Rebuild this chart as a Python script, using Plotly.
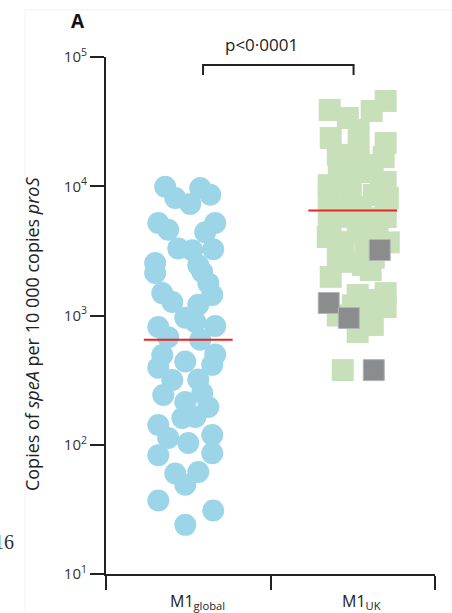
import plotly.graph_objects as go

# ---------------- data ----------------
categories = ["M1<sub>global</sub>", "M1<sub>UK</sub>"]

global_values = [9900, 9700, 8100, 8600, 7300, 5200, 4600, 5200, 4400, 3300,
                 3200, 3250, 2550, 2450, 2130, 2170, 1490, 1270, 1440, 1210,
                 960, 890, 815, 830, 680, 650, 495, 500, 440, 395,
                 415, 317, 320, 243, 251, 214, 196, 161, 164, 142,
                 119, 113, 103, 83, 86, 60, 61.5, 49, 37, 31, 24, 1780]
global_jitter = [-0.14, 0.073, -0.079, 0.134, 0.012, -0.182, -0.122, 0.164, 0.103, -0.061,
                 0.024, 0.152, -0.201, 0.061, -0.201, 0.085, -0.158, -0.097, 0.146, 0.061,
                 -0.018, 0.043, -0.182, 0.164, -0.122, 0.073, -0.158, 0.164, -0.018, -0.182,
                 0.146, -0.097, 0.061, -0.152, 0.085, -0.018, 0.122, -0.036, 0.043, -0.182,
                 0.146, -0.122, 0.0, -0.182, 0.146, -0.079, 0.061, -0.018, -0.182, 0.152, -0.018, 0.122]

uk_values = [45700, 38900, 33700, 38200, 23600, 27200, 21600, 17500, 18400, 16800,
             10200, 12200, 12900, 10800, 8260, 8500, 8560, 8110, 5680, 5800,
             5650, 5780, 4050, 3700, 4400, 3680, 4430, 2790, 2460, 2800,
             1990, 1440, 1490, 1160, 1010, 745, 1000, 378,
             16000, 14600, 12000, 9350, 6900, 6800, 7000, 5000, 5000, 3500,
             2600, 2250, 1320, 1200, 845]
uk_jitter = [0.2, -0.14, -0.03, 0.115, -0.134, 0.036, 0.2, -0.091, 0.036, 0.188,
             -0.146, -0.012, 0.091, 0.2, -0.146, -0.012, 0.128, 0.213, -0.146, -0.03,
             0.109, 0.2, -0.152, -0.055, 0.03, 0.219, 0.152, -0.091, 0.061, 0.128,
             -0.134, 0.03, 0.2, 0.2, 0.091, 0.03, -0.091, -0.061,
             -0.043, 0.122, -0.085, 0.17, 0.049, -0.085, 0.2, 0.049, -0.134, 0.079,
             -0.012, 0.109, 0.122, 0.0, 0.122]

uk_grey_values = [3210, 1250, 957, 378]
uk_grey_jitter = [0.164, -0.146, -0.024, 0.128]

medians = [650, 6500]
y_tickvals = [10, 100, 1000, 10000, 100000]
y_ticktext = ["10<sup>1</sup>", "10<sup>2</sup>", "10<sup>3</sup>", "10<sup>4</sup>", "10<sup>5</sup>"]
p_text = "p<0·0001"

# ---------------- figure ----------------
centers = [0.5, 1.5]
BLUE = "#9dd5e8"
GREEN = "#c8e0b9"
GREY = "#8a8c8e"
RED = "#e8261f"
FONT = "Open Sans"

fig = go.Figure()

fig.add_trace(go.Scatter(
    x=[centers[0] + j for j in global_jitter], y=global_values,
    mode="markers", marker=dict(symbol="circle", size=22, color=BLUE, line=dict(width=0)),
    hoverinfo="y", showlegend=False))

fig.add_trace(go.Scatter(
    x=[centers[1] + j for j in uk_jitter], y=uk_values,
    mode="markers", marker=dict(symbol="square", size=22, color=GREEN, line=dict(width=0)),
    hoverinfo="y", showlegend=False))

fig.add_trace(go.Scatter(
    x=[centers[1] + j for j in uk_grey_jitter], y=uk_grey_values,
    mode="markers", marker=dict(symbol="square", size=21, color=GREY,
                                line=dict(width=1, color="#b4b6b7")),
    hoverinfo="y", showlegend=False))

# median lines
for c, m in zip(centers, medians):
    fig.add_trace(go.Scatter(
        x=[c - 0.27, c + 0.27], y=[m, m], mode="lines",
        line=dict(color=RED, width=2), hoverinfo="skip", showlegend=False))

# significance bracket
bx0, bx1 = 0.59, 1.505
fig.add_shape(type="path", xref="x", yref="paper",
              path=f"M {bx0},0.965 L {bx0},0.9845 L {bx1},0.9845 L {bx1},0.965",
              line=dict(color="#222", width=2))
fig.add_annotation(x=(bx0 + bx1) / 2 - 0.1, y=1.025, xref="x", yref="paper",
                   text=p_text, showarrow=False, font=dict(family=FONT, size=17, color="#222"),
                   xanchor="center", yanchor="middle")

# category labels
for c, lab in zip(centers, categories):
    fig.add_annotation(x=c + 0.055, y=-0.054, xref="x", yref="paper", text=lab, showarrow=False,
                       font=dict(family=FONT, size=16, color="#222"),
                       xanchor="center", yanchor="middle")

# y-axis title
fig.add_annotation(x=-0.225, y=0.466, xref="paper", yref="paper",
                   text="Copies of <i>speA</i> per 10 000 copies <i>proS</i>",
                   textangle=-90, showarrow=False,
                   font=dict(family=FONT, size=18, color="#222"),
                   xanchor="center", yanchor="middle")

# panel letter
fig.add_annotation(x=-0.085, y=1.0696, xref="paper", yref="paper", text="<b>A</b>",
                   showarrow=False, font=dict(family=FONT, size=19, color="#111"),
                   xanchor="center", yanchor="middle")

# stray text from neighbouring panel
fig.add_annotation(x=-0.274, y=0.062, xref="paper", yref="paper", text="16",
                   showarrow=False, font=dict(family="Liberation Serif", size=20, color="#333"),
                   xanchor="right", yanchor="middle")

# faint panel frame
fig.add_shape(type="line", xref="paper", yref="paper", x0=-0.246, x1=1.06, y0=1.091, y1=1.091,
              line=dict(color="#f0f0f0", width=1))
fig.add_shape(type="line", xref="paper", yref="paper", x0=-0.246, x1=-0.246, y0=1.091, y1=-0.075,
              line=dict(color="#f3f3f3", width=1))

fig.update_layout(
    width=452, height=613,
    margin=dict(l=106, r=17, t=57, b=39),
    paper_bgcolor="white", plot_bgcolor="white",
    font=dict(family=FONT, color="#222"),
    showlegend=False,
)
fig.update_xaxes(range=[0, 2], tickvals=[0, 1, 2], ticktext=["", "", ""],
                 showline=True, linecolor="#222", linewidth=2,
                 ticks="outside", ticklen=14, tickwidth=2, tickcolor="#222",
                 showgrid=False, zeroline=False)
fig.update_yaxes(type="log", range=[1, 5], tickvals=y_tickvals, ticktext=y_ticktext,
                 showline=True, linecolor="#222", linewidth=2,
                 ticks="outside", ticklen=14, tickwidth=2, tickcolor="#222",
                 tickfont=dict(family=FONT, size=15, color="#333"),
                 showgrid=False, zeroline=False)

fig.write_html("out.html", config={"displayModeBar": False},
               post_script="document.body.style.margin='0px';")
